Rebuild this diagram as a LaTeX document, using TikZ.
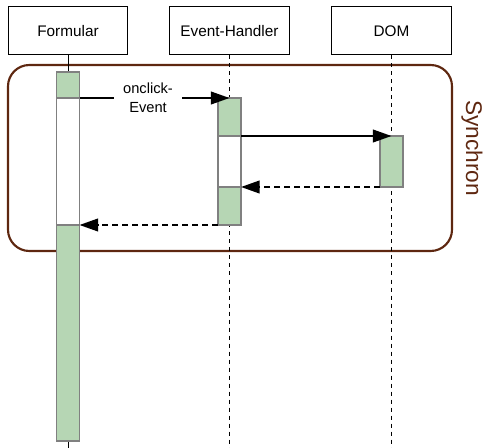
\documentclass[tikz,border=0pt]{standalone}
\usepackage{fontspec}
\setmainfont{Liberation Sans}
\usetikzlibrary{arrows.meta,positioning}
\definecolor{actgreen}{HTML}{B6D6B4}
\definecolor{syncbrown}{HTML}{5E2710}
\begin{document}
\begin{tikzpicture}
        [x=0.75pt, y=-0.75pt,
        head/.style={draw=black, line width=0.75pt, minimum width=89.5pt, minimum height=36pt, font=\fontsize{11.5}{13}\selectfont},
        bar/.style={draw=black!50, line width=1.1pt, minimum width=17.25pt, inner sep=0pt, outer sep=0pt, fill=actgreen},
        idle/.style={bar, fill=white},
        life/.style={line width=0.75pt},
        lifedash/.style={life, dash pattern=on 3pt off 3pt},
        msg/.style={line width=1.5pt, -{Triangle[length=14pt,width=9.5pt]}},
        reply/.style={msg, dash pattern=on 4.5pt off 3pt},
        ]
        \useasboundingbox (0,0) rectangle (491,448);
        \draw[syncbrown, line width=1.6pt, rounded corners=16pt] (8,65) rectangle (452,251);
        \node[syncbrown, rotate=-90, font=\fontsize{17}{20}\selectfont] (sync) at (472,148) {Synchron};
        \node[head] (form) at (68,31) {Formular};
        \node[head] (eh) at (229.5,31) {Event-Handler};
        \node[head] (dom) at (391.5,31) {DOM};
        \coordinate (formend) at (68,448);
        \coordinate (ehend) at (229.5,448);
        \coordinate (domend) at (391.5,448);
        \draw[life] (form.south) -- (formend);
        \draw[lifedash] (eh.south) -- (ehend);
        \draw[lifedash] (dom.south) -- (domend);
        \node[bar, minimum height=19.5pt, anchor=north] (f1) at (68,72) {};
        \node[idle, minimum height=95.25pt, below=0pt of f1] (f2) {};
        \node[bar, minimum height=162pt, below=0pt of f2] (f3) {};
        \node[bar, minimum height=28.5pt, anchor=north] (e1) at (229.5,98) {};
        \node[idle, minimum height=38.25pt, below=0pt of e1] (e2) {};
        \node[bar, minimum height=28.5pt, below=0pt of e2] (e3) {};
        \node[bar, minimum height=38.25pt, anchor=north] (d1) at (391.5,136) {};
        \draw[msg] (f1.south east) -- (e1.north);
        \node[fill=white, align=center, inner xsep=7pt, inner ysep=0pt, font=\fontsize{11}{14}\selectfont] (click) at (148,98) {onclick-\\Event};
        \draw[msg] (e1.south east) -- (d1.north);
        \draw[reply] (d1.south west) -- (e3.north east);
        \draw[reply] (e3.south west) -- (f3.north east);
\end{tikzpicture}
\end{document}
